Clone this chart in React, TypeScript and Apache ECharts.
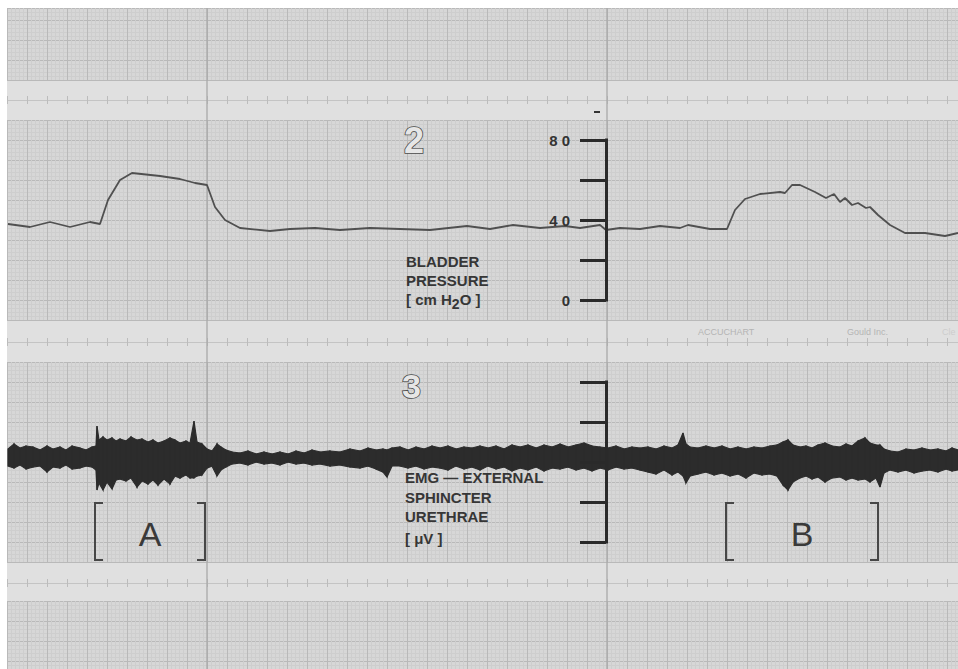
import React, { useEffect, useRef } from "react";
import * as echarts from "echarts";

// ---- data (read from the recording) ----
// time axis in seconds; paper: 2 s per major division
const T_MAX = 95.1;

const pressureTime = [
  0.1, 2.3, 4.3, 6.3, 8.3, 9.3, 10.1, 11.3, 12.5, 15.3,
  17.3, 18.8, 20.0, 20.8, 21.8, 23.3, 26.3, 28.3, 30.8, 33.3,
  36.3, 39.3, 42.3, 46.0, 48.3, 50.6, 53.3, 55.8, 57.3, 59.3,
  59.9, 61.3, 63.3, 65.3, 67.3, 68.1, 70.3, 72.0, 72.8, 73.8,
  75.3, 77.3, 77.8, 78.5, 79.3, 80.8, 81.9, 82.7, 83.3, 83.8,
  84.5, 85.1, 85.9, 86.3, 87.1, 88.3, 89.8, 91.8, 93.8, 95.1,
];
const pressureValue = [
  38, 36.5, 39, 36.5, 39, 38, 50, 60, 63.5, 62,
  60.5, 58.5, 57.5, 46.5, 40, 36, 34.5, 35.5, 36, 35,
  36, 35.5, 35, 37, 35.5, 37.5, 36, 37, 36, 37.5,
  35, 36, 35.5, 37, 36, 37.5, 35.5, 35.5, 45, 50.5,
  53, 54, 53.5, 57.5, 57.5, 54, 51, 53, 49, 51,
  47.5, 48.5, 46, 46.5, 42.5, 37.5, 33.5, 33.5, 32, 33.5,
];

const emgTime = [
  0.1, 0.7, 1.3, 1.9, 2.6, 3.3, 4.0, 4.6, 5.3, 5.9,
  6.5, 7.3, 7.9, 8.5, 8.9, 9.0, 9.2, 9.6, 10.0, 10.5,
  10.9, 11.3, 11.9, 12.4, 13.0, 13.5, 14.1, 14.6, 15.1, 15.7,
  16.3, 16.8, 17.3, 17.9, 18.3, 18.7, 19.0, 19.5, 20.0, 20.5,
  21.0, 21.4, 21.9, 22.5, 23.3, 24.1, 24.9, 25.7, 26.5, 27.3,
  28.1, 28.9, 29.7, 30.5, 31.3, 32.3, 33.3, 34.3, 35.3, 36.1,
  36.9, 37.6, 38.0, 38.5, 39.3, 40.1, 40.9, 41.7, 42.5, 43.3,
  44.1, 44.9, 45.7, 46.5, 47.3, 48.1, 48.9, 49.7, 50.5, 51.3,
  52.1, 52.9, 53.7, 54.5, 55.3, 56.1, 56.9, 57.7, 58.5, 59.3,
  60.1, 60.9, 61.7, 62.5, 63.3, 64.1, 64.9, 65.7, 66.5, 67.1,
  67.6, 67.9, 68.3, 69.1, 69.9, 70.7, 71.5, 72.3, 73.1, 73.9,
  74.7, 75.5, 76.3, 77.0, 77.6, 78.1, 78.6, 79.3, 79.9, 80.5,
  81.1, 81.8, 82.5, 83.3, 83.9, 84.5, 85.1, 85.8, 86.3, 86.9,
  87.3, 87.7, 88.3, 89.1, 89.9, 90.7, 91.5, 92.3, 93.1, 93.9,
  94.5, 95.1,
];
const emgHigh = [
  13, 18, 14, 16, 15, 12, 16, 13, 15, 12,
  16, 14, 12, 15, 16, 36, 22, 25, 22, 24,
  21, 23, 21, 25, 22, 23, 20, 22, 19, 21,
  24, 22, 19, 21, 19, 41, 20, 18, 13, 11,
  18, 15, 12, 10, 9, 11, 8, 10, 8, 10,
  8, 11, 9, 12, 10, 11, 10, 13, 11, 14,
  12, 13, 12, 14, 15, 12, 15, 13, 16, 14,
  16, 13, 15, 14, 16, 14, 16, 13, 17, 15,
  17, 14, 17, 15, 18, 15, 17, 19, 16, 15,
  14, 16, 13, 15, 14, 15, 13, 16, 14, 17,
  29, 18, 15, 14, 16, 14, 16, 13, 15, 13,
  15, 14, 16, 17, 20, 22, 17, 15, 16, 14,
  17, 19, 16, 15, 18, 16, 21, 24, 19, 17,
  17, 13, 11, 10, 13, 12, 14, 12, 13, 11,
  14, 12,
];
const emgLow = [
  -4, -6, -3, -7, -5, -4, -10, -5, -6, -3,
  -7, -6, -4, -5, -8, -28, -21, -28, -20, -27,
  -18, -17, -19, -16, -25, -19, -22, -18, -23, -17,
  -22, -14, -16, -13, -16, -16, -14, -13, -6, -4,
  -14, -8, -5, -2, -1, -3, 0, -2, -1, -3,
  0, -2, -1, -3, -2, -4, -3, -5, -6, -4,
  -7, -10, -15, -4, -4, -6, -4, -7, -5, -6,
  -8, -4, -7, -5, -8, -4, -7, -5, -9, -6,
  -8, -5, -9, -6, -7, -5, -8, -6, -9, -6,
  -8, -5, -7, -6, -8, -10, -12, -8, -13, -10,
  -14, -21, -14, -12, -10, -13, -11, -14, -12, -16,
  -11, -13, -12, -14, -23, -28, -20, -16, -14, -17,
  -15, -20, -16, -15, -18, -16, -18, -17, -20, -16,
  -25, -11, -8, -10, -8, -11, -9, -8, -10, -7,
  -9, -8,
];

const pressureScaleValues = [0, 20, 40, 60, 80];
const pressureScaleLabels = ["0", "", "4 0", "", "8 0"];
const emgScaleValues = [-80, -40, 0, 40, 80];

const phaseNames = ["A", "B"];
const phaseStart = [8.8, 71.9];
const phaseEnd = [19.8, 87.1];
const heavyLineTimes = [20, 60];

// ---- styles ----
const FONT = '"Liberation Sans", Arial, sans-serif';
const BAND_BG = "#d7d7d7";
const GAP_BG = "#e0e0e0";
const MAJOR = "#b9b9b9";
const MINOR = "#cecece";
const INK = "#2a2a2a";
const TRACE = "#505050";
const EMG = "#2c2c2c";

const hidden = {
  axisLine: { show: false },
  axisTick: { show: false },
  axisLabel: { show: false },
  splitLine: { show: false },
};

function paperX(gridIndex: number) {
  return {
    gridIndex, type: "value", min: 0, max: T_MAX, interval: 2, z: 1,
    axisLine: { show: false }, axisTick: { show: false }, axisLabel: { show: false },
    splitLine: { show: true, lineStyle: { color: MAJOR, width: 1 } },
    minorTick: { show: false, splitNumber: 5 },
    minorSplitLine: { show: true, lineStyle: { color: MINOR, width: 1 } },
  };
}
function paperY(gridIndex: number, min: number, max: number, interval: number, inverse = false) {
  return {
    gridIndex, type: "value", min, max, interval, inverse, z: 1,
    axisLine: { show: false }, axisTick: { show: false }, axisLabel: { show: false },
    splitLine: { show: true, lineStyle: { color: MAJOR, width: 1 } },
    minorTick: { show: false, splitNumber: 5 },
    minorSplitLine: { show: true, lineStyle: { color: MINOR, width: 1 } },
  };
}
function gapX(gridIndex: number) {
  return {
    gridIndex, type: "value", min: 0, max: T_MAX, interval: 2, z: 1,
    axisLine: { show: false }, axisTick: { show: false }, axisLabel: { show: false },
    splitLine: { show: true, lineStyle: { color: "#bcbcbc", width: 1 } },
  };
}
function gapY(gridIndex: number) {
  return {
    gridIndex, type: "value", min: -1, max: 1, interval: 1, z: 1,
    axisLine: { show: false }, axisTick: { show: false }, axisLabel: { show: false },
    splitLine: { show: true, lineStyle: { color: ["rgba(0,0,0,0)", "#c4c4c4", "rgba(0,0,0,0)"], width: 1 } },
  };
}

const grids = [
  { left: 7, right: 0, top: 8, bottom: 0, show: true, backgroundColor: GAP_BG, borderWidth: 0 }, // 0 paper
  { left: 7, right: 0, top: 8, height: 72, show: true, backgroundColor: BAND_BG, borderWidth: 0 }, // 1 band 1
  { left: 7, right: 0, top: 96, height: 8 }, // 2 gap 1
  { left: 7, right: 0, top: 120, height: 200, show: true, backgroundColor: BAND_BG, borderWidth: 0 }, // 3 pressure band
  { left: 606, width: 1, top: 140, height: 160 }, // 4 pressure scale
  { left: 7, right: 0, top: 338, height: 8 }, // 5 gap 2
  { left: 7, right: 0, top: 362, height: 200, show: true, backgroundColor: BAND_BG, borderWidth: 0 }, // 6 EMG band
  { left: 606, width: 1, top: 382, height: 160 }, // 7 EMG scale
  { left: 7, right: 0, top: 579, height: 8 }, // 8 gap 3
  { left: 7, right: 0, top: 601, height: 68, show: true, backgroundColor: BAND_BG, borderWidth: 0 }, // 9 band 4
];

const xAxes = [
  { gridIndex: 0, type: "value", min: 0, max: T_MAX, ...hidden },
  paperX(1),
  gapX(2),
  paperX(3),
  { gridIndex: 4, type: "value", min: 0, max: 1, ...hidden },
  gapX(5),
  paperX(6),
  { gridIndex: 7, type: "value", min: 0, max: 1, ...hidden },
  gapX(8),
  paperX(9),
];

const yAxes = [
  { gridIndex: 0, type: "value", min: 0, max: 1, ...hidden },
  paperY(1, 0, 18, 5),
  gapY(2),
  paperY(3, -10, 90, 10),
  {
    gridIndex: 4, type: "value", min: 0, max: 80, interval: 20, position: "left", z: 6,
    axisLine: { show: true, lineStyle: { color: INK, width: 3, cap: "square" } },
    axisTick: { show: true, length: 26, lineStyle: { color: INK, width: 3 } },
    axisLabel: {
      show: true, margin: 36, color: "#333", fontSize: 15, fontWeight: "bold", fontFamily: FONT,
      formatter: (v: number) => {
        const i = pressureScaleValues.indexOf(v);
        return i >= 0 ? pressureScaleLabels[i] : "";
      },
    },
    splitLine: { show: false },
  },
  gapY(5),
  paperY(6, -100, 100, 20),
  {
    gridIndex: 7, type: "value", min: emgScaleValues[0], max: emgScaleValues[emgScaleValues.length - 1],
    interval: 40, position: "left", z: 6,
    axisLine: { show: true, lineStyle: { color: INK, width: 3, cap: "square" } },
    axisTick: { show: true, length: 26, lineStyle: { color: INK, width: 3 } },
    axisLabel: { show: false },
    splitLine: { show: false },
  },
  gapY(8),
  paperY(9, 0, 17, 5, true),
];

const pressureData = pressureTime.map((t, i) => [t, pressureValue[i]]);
const emgData = emgTime.map((t, i) => [t, emgHigh[i], emgLow[i]]);

const option: any = {
  animation: false,
  grid: grids,
  xAxis: xAxes,
  yAxis: yAxes,
  series: [
    {
      type: "line", name: "Bladder pressure", xAxisIndex: 3, yAxisIndex: 3, z: 3,
      data: pressureData, showSymbol: false, symbol: "none",
      lineStyle: { color: TRACE, width: 1.8 },
    },
    {
      type: "custom", name: "EMG", xAxisIndex: 6, yAxisIndex: 6, z: 3,
      data: emgData,
      encode: { x: 0, y: [1, 2] },
      renderItem: (params: any, api: any) => {
        const i = params.dataIndex;
        if (i >= emgTime.length - 1) return { type: "group", children: [] };
        const a = api.coord([emgTime[i], emgHigh[i]]);
        const b = api.coord([emgTime[i + 1], emgHigh[i + 1]]);
        const c = api.coord([emgTime[i + 1], emgLow[i + 1]]);
        const d = api.coord([emgTime[i], emgLow[i]]);
        return {
          type: "polygon",
          shape: { points: [a, b, c, d] },
          style: { fill: EMG, stroke: EMG, lineWidth: 1.2 },
        };
      },
    },
  ],
};

export default function App() {
  const ref = useRef<HTMLDivElement>(null);
  useEffect(() => {
    document.body.style.margin = "0";
    const chart = echarts.init(ref.current!, null, { renderer: "svg" });
    chart.setOption(option);

    const px = (g: number, t: number, v: number) =>
      chart.convertToPixel({ gridIndex: g } as any, [t, v]) as number[];

    const graphic: any[] = [];
    // heavy paper lines
    heavyLineTimes.forEach((t) => {
      const x = px(3, t, 0)[0];
      graphic.push({ type: "line", z: 1, silent: true, shape: { x1: x, y1: 8, x2: x, y2: 669 }, style: { stroke: "#a9a9a9", lineWidth: 1.3 } });
    });
    // small mark above pressure scale
    graphic.push({ type: "line", z: 10, shape: { x1: 594, y1: 112, x2: 600, y2: 112 }, style: { stroke: "#333", lineWidth: 2 } });

    const txt = (text: string, x: number, y: number, extra: any = {}) => ({
      type: "text", z: 10, x, y,
      style: { text, fill: "#363636", font: `bold 15px ${FONT}`, verticalAlign: "middle", ...extra },
    });

    // channel numbers (outlined)
    graphic.push(txt("2", 404, 140, { font: `bold 36px ${FONT}`, fill: "#e6e6e6", stroke: "#4a4a4a", lineWidth: 1.6 }));
    graphic.push(txt("3", 402, 386, { font: `bold 34px ${FONT}`, fill: "#e6e6e6", stroke: "#4a4a4a", lineWidth: 1.6 }));

    // channel labels
    graphic.push(txt("BLADDER", 406, 261));
    graphic.push(txt("PRESSURE", 406, 280));
    graphic.push({
      type: "text", z: 10, x: 406, y: 299,
      style: {
        text: "[ cm H{s|2}O ]", fill: "#363636", font: `bold 15px ${FONT}`, verticalAlign: "middle",
        rich: { s: { font: `bold 14px ${FONT}`, fill: "#363636", padding: [9, 0, 0, 0] } },
      },
    });
    graphic.push(txt("EMG — EXTERNAL", 405, 477));
    graphic.push(txt("SPHINCTER", 405, 497));
    graphic.push(txt("URETHRAE", 405, 516));
    graphic.push(txt("[ μV ]", 405, 538));

    // paper imprint
    graphic.push(txt("ACCUCHART", 698, 332, { font: `9px ${FONT}`, fill: "#b4b4b4" }));
    graphic.push(txt("Gould Inc.", 847, 332, { font: `9px ${FONT}`, fill: "#b4b4b4" }));
    graphic.push(txt("Cle", 942, 332, { font: `9px ${FONT}`, fill: "#cdcdcd" }));

    // phase brackets
    phaseNames.forEach((name, i) => {
      const [x0, yTop] = px(6, phaseStart[i], -41);
      const [x1, yBot] = px(6, phaseEnd[i], -98);
      const arm = 8;
      graphic.push({
        type: "polyline", z: 10,
        shape: { points: [[x0 + arm, yTop], [x0, yTop], [x0, yBot], [x0 + arm, yBot]] },
        style: { stroke: "#474747", lineWidth: 2, fill: null },
      });
      graphic.push({
        type: "polyline", z: 10,
        shape: { points: [[x1 - arm, yTop], [x1, yTop], [x1, yBot], [x1 - arm, yBot]] },
        style: { stroke: "#474747", lineWidth: 2, fill: null },
      });
      const [, yMid] = px(6, phaseStart[i], -70);
      graphic.push({
        type: "text", z: 10, x: (x0 + x1) / 2, y: yMid + 2,
        style: { text: name, fill: "#3a3a3a", font: `34px ${FONT}`, align: "center", verticalAlign: "middle" },
      });
    });

    chart.setOption({ graphic });
    return () => chart.dispose();
  }, []);
  return <div ref={ref} style={{ width: 958, height: 669, background: "#ffffff" }} />;
}
